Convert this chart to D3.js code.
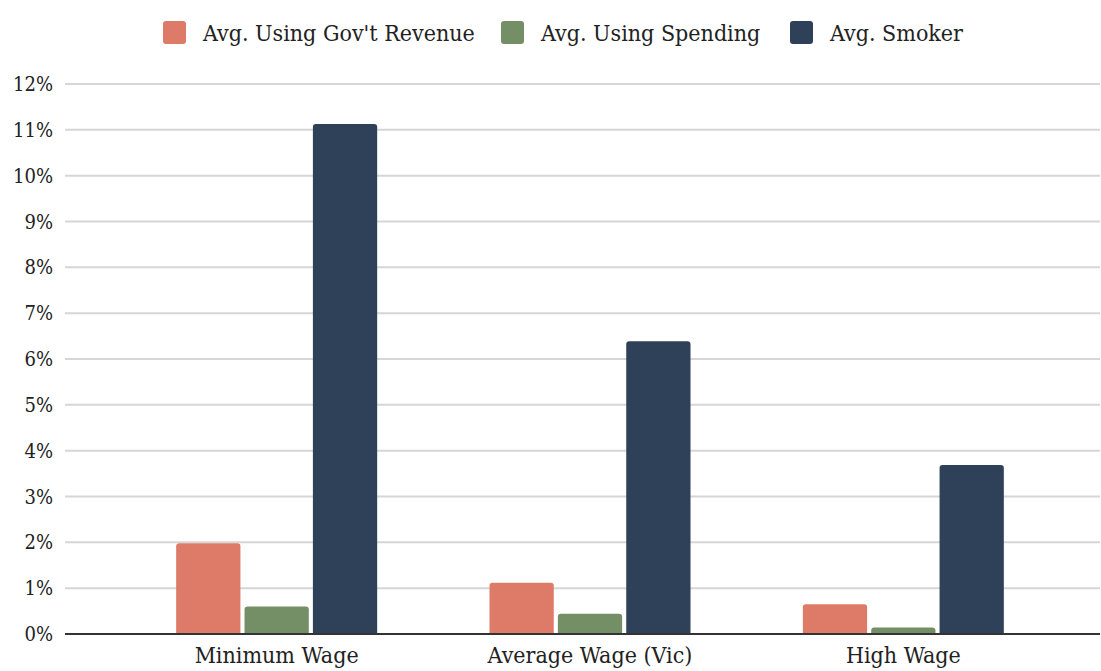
<!DOCTYPE html>
<html>
<head>
<meta charset="utf-8">
<script src="https://cdn.jsdelivr.net/npm/d3@7"></script>
<style>
  html, body { margin: 0; padding: 0; background: #ffffff; }
  svg text { font-family: "DejaVu Serif", serif; font-stretch: condensed; fill: #222; }
</style>
</head>
<body>
<svg id="chart" width="1101" height="671"></svg>
<script>
// Wage groups and the three averages (percent) for each group
const categories = ["Minimum Wage", "Average Wage (Vic)", "High Wage"];
const seriesNames = ["Avg. Using Gov't Revenue", "Avg. Using Spending", "Avg. Smoker"];
const govRevenue = [1.98, 1.12, 0.65];
const spending   = [0.60, 0.44, 0.14];
const smoker     = [11.13, 6.39, 3.69];
const yTicks = [0, 1, 2, 3, 4, 5, 6, 7, 8, 9, 10, 11, 12];
const colors = ["#de7b68", "#748f65", "#2f4159"];

const series = [govRevenue, spending, smoker];

const svg = d3.select("#chart");
const plot = { left: 65, right: 1100, top: 84, bottom: 634 };

const y = d3.scaleLinear().domain([0, 12]).range([plot.bottom, plot.top]);
const x0 = d3.scaleBand().domain(categories).range([120, 1060]).paddingInner(0).paddingOuter(0);
const x1 = d3.scaleBand().domain(d3.range(series.length)).range([0, 201]).paddingInner(0.06);
const groupOffset = (x0.bandwidth() - 201) / 2;

// Horizontal gridlines
svg.append("g").selectAll("line")
  .data(yTicks.filter(t => t > 0))
  .join("line")
  .attr("x1", plot.left).attr("x2", plot.right)
  .attr("y1", d => y(d)).attr("y2", d => y(d))
  .attr("stroke", "#d6d6d6").attr("stroke-width", 2);

// Y tick labels
svg.append("g").selectAll("text")
  .data(yTicks)
  .join("text")
  .attr("x", 53).attr("y", d => y(d))
  .attr("dy", "0.35em")
  .attr("text-anchor", "end")
  .style("font-size", "20px")
  .text(d => d + "%");

// Bar path with rounded top corners
function barPath(x, yTop, w, yBase, r) {
  const h = yBase - yTop;
  r = Math.min(r, h / 2, w / 2);
  return `M${x},${yBase}V${yTop + r}Q${x},${yTop} ${x + r},${yTop}` +
         `H${x + w - r}Q${x + w},${yTop} ${x + w},${yTop + r}V${yBase}Z`;
}

const groups = svg.append("g").selectAll("g")
  .data(categories)
  .join("g")
  .attr("transform", d => `translate(${x0(d) + groupOffset},0)`);

groups.selectAll("path")
  .data((d, i) => series.map((s, k) => ({ k, v: s[i] })))
  .join("path")
  .attr("fill", d => colors[d.k])
  .attr("d", d => barPath(x1(d.k), y(d.v), x1.bandwidth(), y(0), 3));

// Baseline
svg.append("line")
  .attr("x1", plot.left).attr("x2", plot.right)
  .attr("y1", y(0)).attr("y2", y(0))
  .attr("stroke", "#333").attr("stroke-width", 2);

// Category labels
svg.append("g").selectAll("text")
  .data(categories)
  .join("text")
  .attr("x", d => x0(d) + x0.bandwidth() / 2)
  .attr("y", 663)
  .attr("text-anchor", "middle")
  .style("font-size", "23px")
  .text(d => d);

// Legend
const legendX = [163, 501, 790];
const legend = svg.append("g").selectAll("g")
  .data(seriesNames)
  .join("g")
  .attr("transform", (d, i) => `translate(${legendX[i]},21)`);
legend.append("rect")
  .attr("width", 23).attr("height", 23).attr("rx", 3)
  .attr("fill", (d, i) => colors[i]);
legend.append("text")
  .attr("x", 40).attr("y", 20)
  .style("font-size", "23px")
  .text(d => d);
</script>
</body>
</html>
